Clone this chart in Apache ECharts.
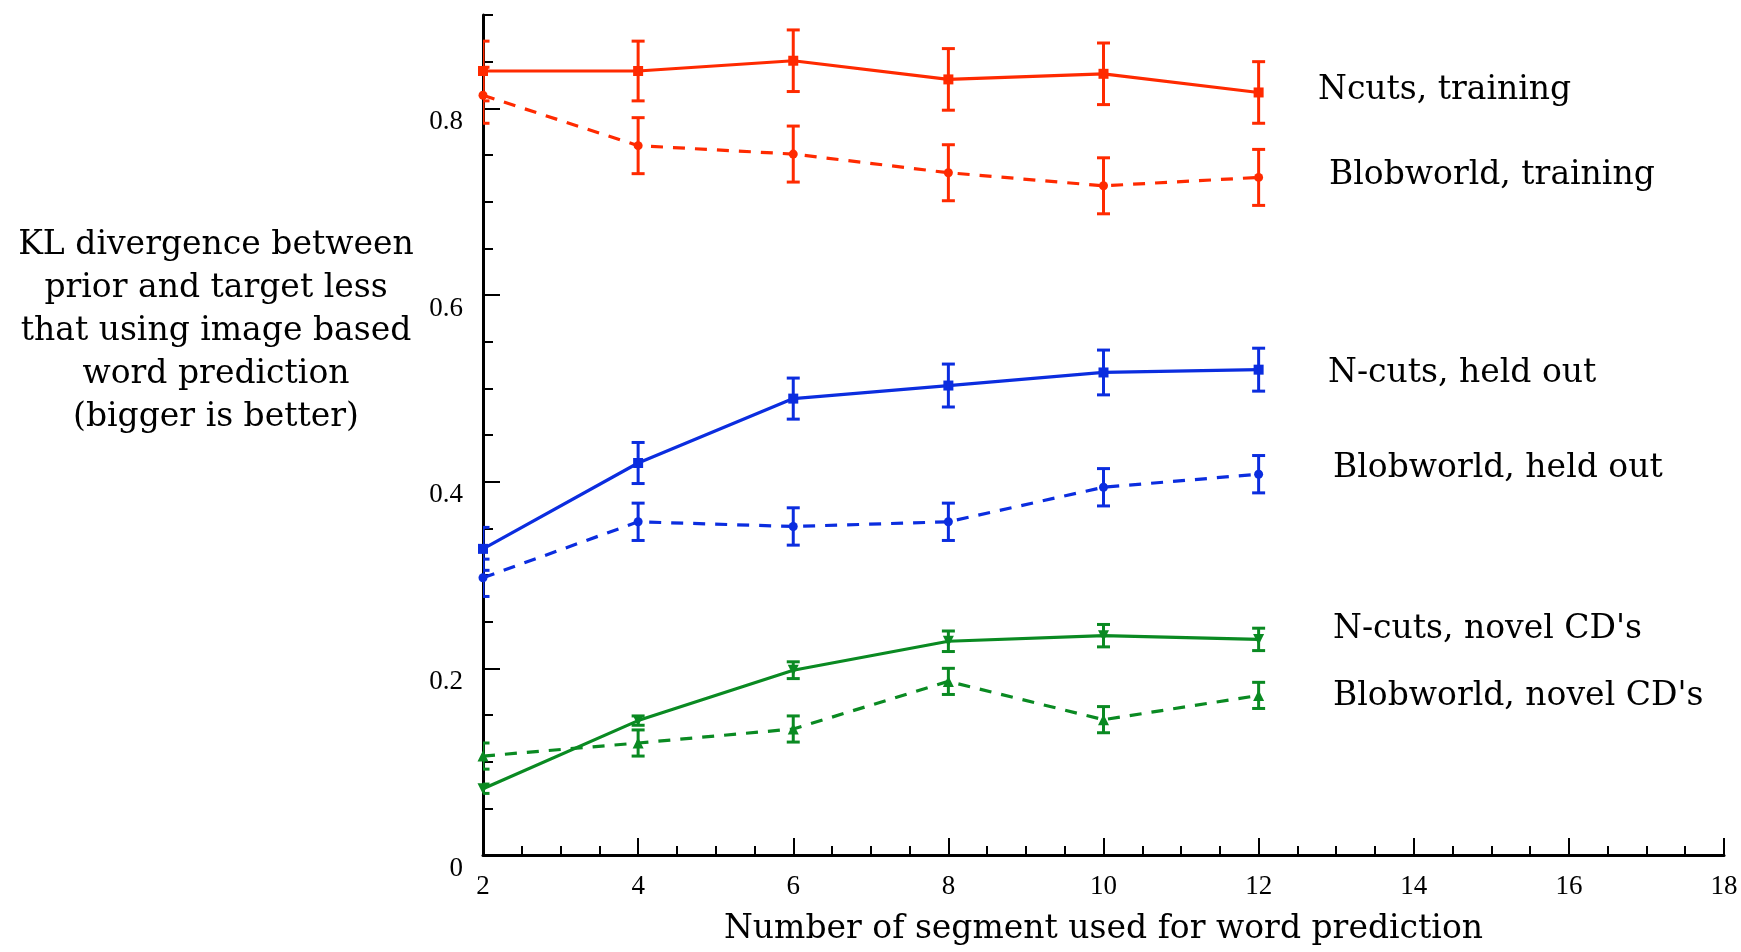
<!DOCTYPE html>
<html>
<head>
<meta charset="utf-8">
<script src="https://cdn.jsdelivr.net/npm/echarts@6/dist/echarts.min.js"></script>
<style>
html,body{margin:0;padding:0;background:#fff;}
#chart{width:1741px;height:952px;}
</style>
</head>
<body>
<div id="chart"></div>
<script>
// ---- data ----
const segments = [2, 4, 6, 8, 10, 12];
const ncutsTrain = [0.840, 0.840, 0.851, 0.831, 0.837, 0.817];
const ncutsTrainErr = [0.032, 0.032, 0.033, 0.033, 0.033, 0.033];
const blobTrain = [0.814, 0.760, 0.751, 0.731, 0.717, 0.726];
const blobTrainErr = [0.030, 0.030, 0.030, 0.030, 0.030, 0.030];
const ncutsHeld = [0.328, 0.420, 0.489, 0.503, 0.517, 0.520];
const ncutsHeldErr = [0.023, 0.022, 0.022, 0.023, 0.024, 0.023];
const blobHeld = [0.297, 0.357, 0.352, 0.357, 0.394, 0.408];
const blobHeldErr = [0.020, 0.020, 0.020, 0.020, 0.020, 0.020];
const ncutsNovel = [0.071, 0.144, 0.198, 0.229, 0.235, 0.231];
const ncutsNovelErr = [0.005, 0.005, 0.009, 0.011, 0.012, 0.012];
const blobNovel = [0.106, 0.120, 0.135, 0.186, 0.145, 0.171];
const blobNovelErr = [0.014, 0.014, 0.014, 0.014, 0.014, 0.014];
const xTicks = [2, 4, 6, 8, 10, 12, 14, 16, 18];
const yTickLabels = [0, 0.2, 0.4, 0.6, 0.8];
const seriesNames = ['Ncuts, training', 'Blobworld, training', 'N-cuts, held out',
  'Blobworld, held out', "N-cuts, novel CD's", "Blobworld, novel CD's"];
const yTitle = 'KL divergence between\nprior and target less\nthat using image based\nword prediction\n(bigger is better)';
const xTitle = 'Number of segment used for word prediction';

// ---- styles ----
const RED = '#ff2a00', BLUE = '#0b2ddf', GREEN = '#0a8a22';
const SERIF = '"DejaVu Serif", serif';
const TICKFONT = '"Liberation Serif", serif';

function pts(vals) { return segments.map((x, i) => [x, vals[i]]); }
function errs(vals, e) { return segments.map((x, i) => [x, vals[i] - e[i], vals[i] + e[i]]); }

function lineSeries(name, vals, color, dashed, symbol, rotate, size) {
  return {
    type: 'line', name: name, data: pts(vals),
    xAxisIndex: 0, yAxisIndex: 0,
    symbol: symbol, symbolSize: size, symbolRotate: rotate || 0,
    itemStyle: { color: color },
    lineStyle: { color: color, width: 3.2, type: dashed ? [12, 10] : 'solid' },
    z: 3, animation: false
  };
}
function errSeries(vals, e, color) {
  return {
    type: 'custom', data: errs(vals, e), xAxisIndex: 0, yAxisIndex: 0,
    encode: { x: 0, y: [1, 2] }, clip: true, z: 4, animation: false,
    renderItem: function (params, api) {
      const lo = api.coord([api.value(0), api.value(1)]);
      const hi = api.coord([api.value(0), api.value(2)]);
      const hw = 6.5;
      const st = { stroke: color, lineWidth: 3 };
      return {
        type: 'group', children: [
          { type: 'line', shape: { x1: lo[0], y1: lo[1], x2: hi[0], y2: hi[1] }, style: st },
          { type: 'line', shape: { x1: lo[0] - hw, y1: lo[1], x2: lo[0] + hw, y2: lo[1] }, style: st },
          { type: 'line', shape: { x1: hi[0] - hw, y1: hi[1], x2: hi[0] + hw, y2: hi[1] }, style: st }
        ]
      };
    }
  };
}

const chart = echarts.init(document.getElementById('chart'), null, { renderer: 'canvas' });

const labelPos = [
  [1318, 90, RED], [1329, 175, RED], [1328, 373, BLUE],
  [1333, 468, BLUE], [1333, 629, GREEN], [1333, 696, GREEN]
];

const option = {
  backgroundColor: '#fff',
  animation: false,
  grid: { left: 483, right: 17, top: 15, bottom: 97, containLabel: false },
  xAxis: [
    {
      type: 'value', min: 2, max: 18, interval: 0.5, position: 'bottom',
      axisLine: { show: true, onZero: false, lineStyle: { color: '#000', width: 3 } },
      axisTick: { show: true, inside: true, length: 9, lineStyle: { color: '#000', width: 2 } },
      axisLabel: { show: false }, splitLine: { show: false }
    },
    {
      type: 'value', min: 2, max: 18, interval: 2, position: 'bottom',
      name: xTitle, nameLocation: 'middle', nameGap: 58,
      nameTextStyle: { fontFamily: SERIF, fontSize: 33, color: '#000' },
      axisLine: { show: false, onZero: false },
      axisTick: { show: true, inside: true, length: 17, lineStyle: { color: '#000', width: 2 } },
      axisLabel: { show: true, margin: 18, fontFamily: TICKFONT, fontSize: 27, color: '#000',
        customValues: xTicks },
      splitLine: { show: false }
    }
  ],
  yAxis: [
    {
      type: 'value', min: 0, max: 0.9, interval: 0.05, position: 'left',
      axisLine: { show: true, onZero: false, lineStyle: { color: '#000', width: 3 } },
      axisTick: { show: true, inside: true, length: 10, lineStyle: { color: '#000', width: 2 } },
      axisLabel: { show: false }, splitLine: { show: false }
    },
    {
      type: 'value', min: 0, max: 0.9, interval: 0.1, position: 'left',
      axisLine: { show: false, onZero: false },
      axisTick: { show: true, inside: true, length: 17, customValues: yTickLabels,
        lineStyle: { color: '#000', width: 2 } },
      axisLabel: { show: true, margin: 20, fontFamily: TICKFONT, fontSize: 27, color: '#000',
        customValues: yTickLabels, verticalAlign: 'top' },
      splitLine: { show: false }
    }
  ],
  series: [
    lineSeries(seriesNames[0], ncutsTrain, RED, false, 'rect', 0, 10),
    lineSeries(seriesNames[1], blobTrain, RED, true, 'circle', 0, 9),
    lineSeries(seriesNames[2], ncutsHeld, BLUE, false, 'rect', 0, 10),
    lineSeries(seriesNames[3], blobHeld, BLUE, true, 'circle', 0, 9),
    lineSeries(seriesNames[4], ncutsNovel, GREEN, false, 'triangle', 180, 11),
    lineSeries(seriesNames[5], blobNovel, GREEN, true, 'triangle', 0, 11),
    errSeries(ncutsTrain, ncutsTrainErr, RED),
    errSeries(blobTrain, blobTrainErr, RED),
    errSeries(ncutsHeld, ncutsHeldErr, BLUE),
    errSeries(blobHeld, blobHeldErr, BLUE),
    errSeries(ncutsNovel, ncutsNovelErr, GREEN),
    errSeries(blobNovel, blobNovelErr, GREEN)
  ],
  graphic: [
    {
      type: 'text', x: 216, y: 331,
      style: { text: yTitle, font: '33px ' + SERIF, fill: '#000', align: 'center',
        verticalAlign: 'middle', lineHeight: 43 }
    }
  ].concat(seriesNames.map((n, i) => ({
    type: 'text', x: labelPos[i][0], y: labelPos[i][1],
    style: { text: n, font: '33px ' + SERIF, fill: '#000', align: 'left', verticalAlign: 'middle' }
  })))
};
chart.setOption(option);
</script>
</body>
</html>
